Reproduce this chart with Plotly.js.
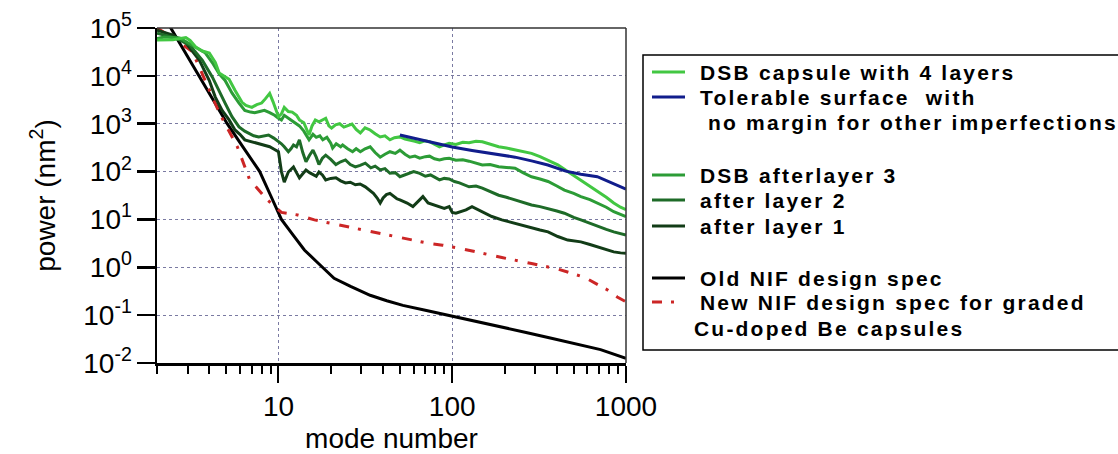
<!DOCTYPE html>
<html>
<head>
<meta charset="utf-8">
<script src="https://cdn.plot.ly/plotly-3.0.1.min.js"></script>
<style>
  html, body { margin: 0; padding: 0; background: #fff; }
  #chart { width: 1118px; height: 454px; }
  .annotation-text { letter-spacing: 2.2px; }
</style>
</head>
<body>
<div id="chart"></div>
<script>
// ---- data ----
const capM = [2.0,2.47,2.93,3.1,3.34,3.65,4.0,4.33,4.56,5.0,5.2,5.62,6.17,6.5,7.03,7.5,8.0,8.4,8.9,9.3,9.74,10.0,10.4,10.8,11.4,12.0,12.7,13.2,14.0,15.0,15.6,16.3,17.1,18.0,18.7,19.5,20.2,21.3,22.5,23.8,25.0,26.5,28,29.6,31.5,33.7,36,38.5,41,43.8,46.5,50,53.5,57,61,65,69.5,74,79,84.5,90,96,105,115,125,137,149,165,185,205,230,255,286,320,356,405,462,550,620,684,770,850,930,1000];
const capP = [5.6e4,5.7e4,6.3e4,5.5e4,4.0e4,3.3e4,3.0e4,1.9e4,1.15e4,9.5e3,8.5e3,5.0e3,2.8e3,2.4e3,2.2e3,2.5e3,2.7e3,3.3e3,4.3e3,2.9e3,1.9e3,1.4e3,1.6e3,2.2e3,1.8e3,1.75e3,1.5e3,1.2e3,1.05e3,580,900,1.2e3,1.1e3,1.2e3,1.3e3,900,810,950,1.0e3,850,900,980,760,640,820,740,620,530,560,460,510,530,480,460,430,400,440,420,370,330,360,390,370,410,400,430,420,370,330,310,282,265,240,205,174,138,100,66,50,38,29,22,18,16];

const tolM = [50,60,75,100,130,170,230,290,355,450,550,684,850,1000];
const tolP = [580,500,420,325,275,235,200,165,137,102,88,78,56,43];

const l3M = [2.0,2.2,2.7,3.2,3.8,4.2,4.56,4.93,5.4,5.93,6.4,6.9,7.3,7.8,8.3,8.9,9.5,10.0,10.4,10.8,11.4,12.0,12.7,13.2,14.0,15.0,15.8,16.5,17.3,18.0,19.0,20.0,20.5,21.5,22.8,23.4,25,26.7,28,29.6,31.5,33.7,36,38.5,41,43.8,47,50,53.5,57,61,65,70,74,79,84.5,90,96,105,115,125,137,149,165,185,205,230,255,286,320,356,400,442,500,550,620,684,770,850,930,1000];
const l3P = [6.0e4,6.5e4,6.2e4,4.4e4,3.0e4,1.8e4,1.1e4,8.0e3,4.4e3,2.7e3,1.9e3,1.75e3,1.7e3,1.8e3,1.9e3,1.7e3,1.5e3,1.3e3,1.2e3,1.5e3,1.3e3,1.15e3,1.0e3,900,700,460,600,520,560,460,520,390,310,380,330,360,300,260,300,260,300,330,250,200,230,260,240,280,230,200,210,190,205,210,185,175,185,190,172,176,165,150,138,140,126,122,117,95,78,70,62,50,41,35,30,26,22,18,14.5,13,11.5];

const l2M = [2.0,2.56,3.08,3.65,4.16,4.56,4.93,5.4,5.93,6.4,6.76,7.2,7.7,8.2,8.77,9.4,10.0,10.4,10.8,11.4,11.8,12.2,12.7,13.2,13.8,14.4,15.1,15.8,16.5,17.1,17.9,18.7,20.0,21.4,22.8,24.3,25.9,27.7,29.5,31.6,34,36,38.5,41,43.8,47,50,55,60,65,70,75,80,84.5,90,96,103,110,125,137,149,165,185,205,230,255,286,320,356,400,442,500,550,620,684,770,850,930,1000];
const l2P = [7.8e4,6.2e4,4.4e4,2.1e4,9.5e3,5.0e3,2.7e3,1.4e3,860,700,640,560,530,560,580,500,430,380,330,260,300,360,330,460,250,160,220,280,200,140,190,220,180,140,160,175,140,125,135,150,120,130,108,115,92,95,78,90,100,92,80,85,74,67,72,70,62,58,48,50,45,38,32,29,25.5,22,20,18.5,17,15,13.5,11,9.8,8.3,7.1,6.2,5.5,5.0,4.7];

const l1M = [2.0,2.47,2.93,3.51,4.0,4.33,4.74,5.2,5.62,6.0,6.4,6.9,7.3,7.8,8.3,8.9,9.5,10.0,10.4,10.8,11.4,12.2,12.7,13.2,13.8,14.4,15.1,15.8,16.5,17.1,17.9,18.7,20.0,21.4,22.8,24.3,25.9,27.7,29.5,31.6,33.5,35.2,37,38.5,40,41.8,43.8,46,48,50,55,59.4,64,67.8,72.6,78,84.5,90,96,100,105,112,120,130,140,149,169,193,210,230,255,286,320,356,405,462,500,550,620,684,770,850,930,1000];
const l1P = [9.0e4,7.1e4,4.9e4,2.1e4,8.0e3,3.6e3,1.9e3,1.2e3,740,600,460,430,400,380,360,330,290,260,100,60,98,125,95,74,90,108,95,88,80,98,85,67,72,74,64,58,60,53,55,48,40,35,28,22,28,33,35,30,27,25.5,22,18.5,24,30,22,20,18.5,17,18.5,14,13.5,14.5,15.8,18.5,16,14.5,11.5,9.8,9.0,8.3,7.4,6.5,6.0,5.5,4.4,3.7,3.6,3.4,3.0,2.7,2.4,2.1,2.0,1.96];

const oldM = [2.3,2.4,2.6,3.0,3.5,4.2,5.07,6.2,7.8,9.0,10.4,12,14.1,17,20.9,26,33.7,42,52,70,100,140,193,270,372,520,714,1000];
const oldP = [1.3e5,1.0e5,6.1e4,2.6e4,1.0e4,3.2e3,1.0e3,340,100,32,10,5.0,2.3,1.2,0.59,0.40,0.26,0.20,0.16,0.127,0.096,0.073,0.057,0.043,0.033,0.025,0.019,0.0125];

const newM = [2.0,2.5,3.2,3.8,4.6,5.8,6.8,8.5,10.4,12.9,16.1,20,24.9,30,38.5,48,59.4,72,88,110,136,193,286,405,575,780,890,1000];
const newP = [1.0e5,6.0e4,3.2e4,7.5e3,1.6e3,330,70,27,14,12.4,9.8,8.3,7.1,6.0,5.1,4.3,3.7,3.2,2.9,2.5,2.1,1.6,1.2,0.92,0.62,0.34,0.24,0.19];

// legend texts (one entry per text line)
const legendLines = [
  'DSB capsule with 4 layers',
  'Tolerable surface  with',
  ' no margin for other imperfections',
  'DSB afterlayer 3',
  'after layer 2',
  'after layer 1',
  'Old NIF design spec',
  'New NIF design spec for graded',
  'Cu-doped Be capsules'
];

const xTickVals = [10, 100, 1000];
const xTickText = ['10', '100', '1000'];
const xMinorVals = [2,3,4,5,6,7,8,9,20,30,40,50,60,70,80,90,200,300,400,500,600,700,800,900];
const yTickVals = [1e-2, 1e-1, 1, 10, 100, 1e3, 1e4, 1e5];
const yTickText = ['10<sup>-2</sup>','10<sup>-1</sup>','10<sup>0</sup>','10<sup>1</sup>','10<sup>2</sup>','10<sup>3</sup>','10<sup>4</sup>','10<sup>5</sup>'];

// ---- styles ----
const C = {
  cap: '#42c742', tol: '#111d8c', l3: '#2c9c36', l2: '#1e6b28', l1: '#123c17',
  old: '#000000', nw: '#cc2626'
};
const RED_DASH = '10px,9px,3px,10px';

function tr(x, y, name, color, dash) {
  return {
    x: x, y: y, name: name, type: 'scatter', mode: 'lines', showlegend: false,
    line: { color: color, width: 3, dash: dash || 'solid' }
  };
}
const data = [
  tr(oldM, oldP, legendLines[6], C.old),
  tr(newM, newP, legendLines[7] + ' ' + legendLines[8], C.nw, RED_DASH),
  tr(l1M, l1P, legendLines[5], C.l1),
  tr(l2M, l2P, legendLines[4], C.l2),
  tr(l3M, l3P, legendLines[3], C.l3),
  tr(capM, capP, legendLines[0], C.cap),
  tr(tolM, tolP, legendLines[1] + legendLines[2], C.tol)
];

const FONT = 'Liberation Sans, Arial, Helvetica, sans-serif';

// ---- manual legend (pixel layout converted to paper coords) ----
const PL = 157, PR = 626, PT = 28, PB = 363;
const px = v => (v - PL) / (PR - PL);
const py = v => (PB - v) / (PB - PT);
const rowY = [72, 97, 122, 175, 200, 226, 278, 302, 328];
const rowX = [698, 698, 698, 698, 698, 698, 698, 698, 692];
const sampleColor = [C.cap, C.tol, null, C.l3, C.l2, C.l1, C.old, C.nw, null];

const annotations = legendLines.map((t, i) => ({
  xref: 'paper', yref: 'paper', x: px(rowX[i]), y: py(rowY[i]),
  xanchor: 'left', yanchor: 'middle', showarrow: false, align: 'left',
  text: t, font: { family: FONT, size: 21, color: '#000', weight: 'bold' }
}));

const shapes = [
  { type: 'line', xref: 'paper', yref: 'paper', x0: 0, x1: 1, y0: 1, y1: 1, line: { color: '#333', width: 1.5 } },
  { type: 'line', xref: 'paper', yref: 'paper', x0: 1, x1: 1, y0: 0, y1: 1, line: { color: '#333', width: 1.5 } },
  { type: 'rect', xref: 'paper', yref: 'paper', x0: px(643), x1: px(1130), y0: py(350), y1: py(55), line: { color: '#000', width: 1.5 }, fillcolor: 'rgba(0,0,0,0)' }
];
sampleColor.forEach((c, i) => {
  if (!c) return;
  shapes.push({
    type: 'line', xref: 'paper', yref: 'paper',
    x0: px(652), x1: px(c === C.nw ? 680 : 685), y0: py(rowY[i]), y1: py(rowY[i]),
    line: { color: c, width: 3, dash: c === C.nw ? RED_DASH : 'solid' }
  });
});

const layout = {
  width: 1118, height: 454,
  margin: { l: PL, r: 1118 - PR, t: PT, b: 454 - PB },
  paper_bgcolor: '#ffffff', plot_bgcolor: '#ffffff',
  font: { family: FONT, color: '#000', size: 28 },
  showlegend: false,
  xaxis: {
    type: 'log', range: [Math.log10(2), 3],
    tickmode: 'array', tickvals: xTickVals, ticktext: xTickText,
    ticks: 'outside', ticklen: 17, tickwidth: 2, tickcolor: '#000',
    showline: true, linecolor: '#000', linewidth: 2.5,
    showgrid: true, gridcolor: '#7a7aa2', griddash: 'dot', gridwidth: 1.2,
    zeroline: false,
    minor: { tickmode: 'array', tickvals: xMinorVals, ticks: 'outside', ticklen: 8, tickwidth: 2, tickcolor: '#000', showgrid: false },
    tickfont: { size: 28 },
    title: { text: 'mode number', font: { size: 28 }, standoff: 8 }
  },
  yaxis: {
    type: 'log', range: [-2, 5],
    tickmode: 'array', tickvals: yTickVals, ticktext: yTickText,
    ticks: 'outside', ticklen: 18, tickwidth: 2.5, tickcolor: '#000',
    ticklabelstandoff: -1,
    showline: true, linecolor: '#000', linewidth: 2.5,
    showgrid: true, gridcolor: '#7a7aa2', griddash: 'dot', gridwidth: 1.2,
    zeroline: false,
    tickfont: { size: 28 },
    title: { text: 'power (nm<sup>2</sup>)', font: { size: 28 }, standoff: 20 }
  },
  annotations: annotations,
  shapes: shapes
};

Plotly.newPlot('chart', data, layout, { displayModeBar: false, staticPlot: true });
</script>
</body>
</html>
